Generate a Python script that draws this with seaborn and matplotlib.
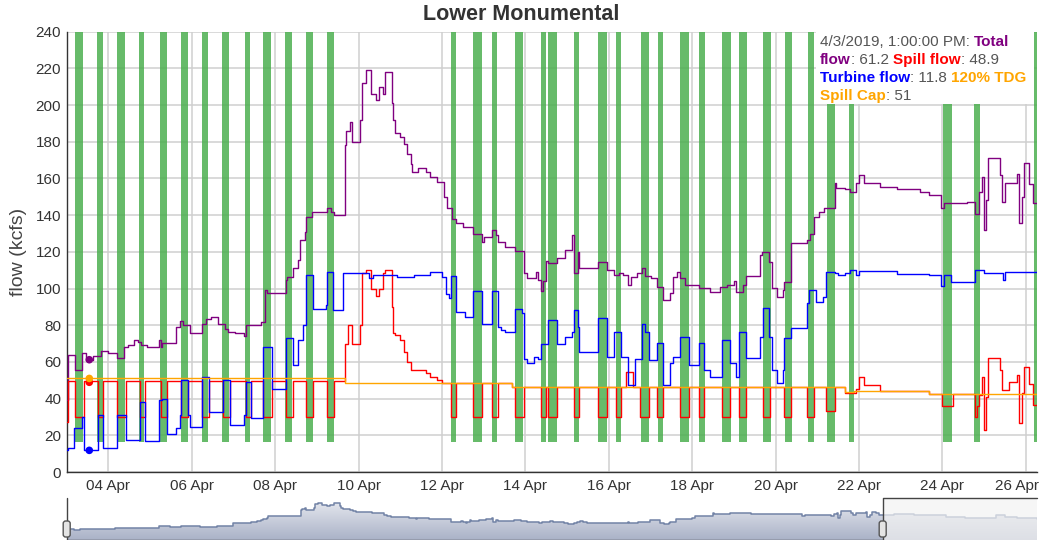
import numpy as np
import pandas as pd
import matplotlib
matplotlib.use('Agg')
import matplotlib.pyplot as plt
import matplotlib.dates as mdates
from matplotlib.colors import LinearSegmentedColormap
from matplotlib.patches import Rectangle, FancyBboxPatch
from matplotlib.transforms import IdentityTransform, ScaledTranslation
import seaborn as sns

# hours counted from 2019-04-03 00:00, hourly data
start = pd.Timestamp('2019-04-03 00:00')
view_end_h = 558.4
range_end_h = 664

total_pts = [(0, 39), (1, 64), (5, 55.6), (9, 65), (11, 61.2), (15, 63), (20, 66), (24, 65), (29, 62),
             (33, 68), (35, 69), (39, 72), (41, 71), (43, 69), (46, 68), (53, 72), (54, 68), (55, 70.5),
             (63, 79), (65, 82.5), (67, 80), (71, 76), (78, 80.6), (80, 83.4), (83, 84.3), (87, 80.6),
             (91, 77.8), (93, 76.5), (97, 76), (102, 74), (103, 80), (112, 81.7), (114, 99), (115, 97.5),
             (126, 104.6), (127, 106.3), (130, 111), (133, 115.8), (134, 126.4), (137, 131), (138, 139),
             (141, 141.9), (150, 143.7), (152, 141.9), (154, 140), (160, 178), (161, 186), (163, 191),
             (164, 180), (169, 192), (170, 211.8), (172, 219), (175, 206), (178, 202.7), (180, 210),
             (182, 206), (183, 218.3), (187, 201), (188, 192), (189, 184.6), (192, 182.4), (194, 179),
             (196, 173.5), (198, 168), (199, 163.7), (202, 165.5), (207, 163.7), (209, 161), (213, 158),
             (217, 150), (219, 143.7), (222, 138), (224, 135.7), (228, 133.7), (234, 130), (239, 125.5),
             (240, 128), (245, 132), (247, 129), (248, 125.5), (252, 122.8), (258, 120.5), (263, 108.3),
             (265, 105.5), (270, 109), (271, 104.5), (273, 98.6), (274, 104), (276, 115), (277, 113.7),
             (282, 116.4), (287, 121), (291, 129), (292, 108.3), (294, 120), (295, 111), (306, 114.7),
             (311, 110), (315, 107.4), (318, 108.3), (320, 107.4), (323, 102), (325, 106.4), (328, 108.3),
             (331, 111), (333, 106.7), (336, 105.5), (340, 101), (343, 93.7), (347, 97.3), (349, 106.4),
             (351, 109.2), (353, 105.5), (356, 102), (364, 100.2), (370, 98.3), (376, 101), (380, 102),
             (384, 104), (385, 98.3), (389, 102), (391, 107), (399, 118.3), (400, 120), (404, 114.7),
             (406, 100.2), (409, 95.5), (412, 99.2), (413, 103.5), (417, 124.6), (426, 126.4), (428, 130),
             (430, 139), (433, 141.9), (436, 143.7), (442, 157.3), (443, 154.6), (448, 154), (451, 152.8),
             (454, 157.3), (456, 161.8), (459, 157.3), (468, 155.5), (478, 154.5), (491, 152.8),
             (496, 150.9), (503, 143.7), (505, 146.4), (518, 147.3), (523, 140.9), (525, 152.8),
             (527, 160.9), (528, 131.9), (529, 148), (530, 170.9), (537, 162), (538, 147.3), (540, 157.3),
             (542, 157.6), (547, 162.7), (548, 135.6), (550, 150), (551, 168.2), (554, 157), (556, 146.4),
             (558.4, 146.4)]

spill_pts = [(0, 27), (1, 49.5), (5, 30), (10, 49.5), (18, 30), (21, 49.5), (29, 30), (34, 49.5), (42, 30),
             (45, 49.5), (54, 30), (58, 49.5), (66, 30), (70, 49.5), (78, 30), (82, 49.5), (90, 30),
             (94, 49.5), (103, 30), (106, 49.5), (113, 30), (118, 49.5), (126, 30), (130, 49.5), (138, 30),
             (142, 49.5), (150, 30), (154, 49.5), (160, 70), (162, 80), (164, 70), (169, 80), (170, 108.3),
             (172, 110), (175, 100), (178, 96), (180, 100), (182, 108.3), (183, 110), (187, 90), (188, 76),
             (189, 74.7), (192, 72), (194, 65.4), (196, 60), (198, 55.6), (207, 53.8), (209, 52), (213, 50),
             (216, 48.3), (221, 30), (224, 48.3), (234, 30), (239, 48.3), (245, 30), (248, 48.3),
             (256, 46.5), (258, 30), (263, 46.5), (273, 30), (276, 46.5), (277, 30), (282, 46.5), (292, 30),
             (295, 46.5), (306, 30), (311, 46.5), (316, 30), (319, 46.5), (322, 54.7), (326, 46.5),
             (330, 30), (335, 46.5), (340, 30), (343, 46.5), (353, 30), (358, 46.5), (364, 30), (367, 46.5),
             (377, 30), (382, 46.5), (387, 30), (391, 46.5), (401, 30), (405, 46.5), (413, 30), (417, 46.5),
             (426, 30), (430, 46.5), (437, 33), (442, 46.5), (448, 43), (454, 45), (456, 52), (459, 47.5),
             (468, 44.3), (496, 42.3), (504, 36), (510, 42.3), (523, 30), (524, 36), (525, 42), (527, 52),
             (528, 23), (529, 41), (530, 62), (537, 55.6), (538, 44.9), (542, 49.2), (547, 52.9),
             (548, 26.5), (550, 42.9), (551, 57.4), (554, 48), (556, 36.5), (558.4, 36.5)]

turbine_pts = [(0, 12), (1, 13), (4, 24), (9, 30), (10, 12), (18, 31), (21, 13), (29, 31), (34, 17.5),
               (42, 38), (45, 17), (53, 39), (55, 40), (58, 20.8), (63, 24), (65, 31), (66, 50), (70, 31),
               (71, 24.3), (78, 52), (82, 32.8), (90, 50), (94, 25.6), (102, 31), (103, 49), (106, 29.2),
               (113, 68.2), (118, 45.3), (126, 73), (130, 58.2), (133, 72), (136, 80), (138, 107.2),
               (142, 89.1), (149, 90.9), (150, 109), (153, 88.2), (159, 108.5), (174, 105.5), (176, 107.5),
               (190, 106.5), (200, 107.5), (209, 109.2), (216, 106.4), (218, 97), (220, 94.7), (221, 106.8),
               (224, 87.2), (229, 84.4), (234, 98.9), (239, 80.7), (245, 98.9), (248, 79.2), (250, 77.6),
               (252, 76.3), (258, 89), (262, 86.5), (263, 61.5), (265, 59.2), (269, 62.9), (271, 61.5),
               (273, 70), (277, 82.8), (282, 70), (287, 73.4), (291, 76.5), (292, 88.4), (294, 79.2),
               (295, 65.6), (306, 83.7), (311, 62.9), (315, 76.3), (319, 62.9), (323, 47.4), (327, 61.5),
               (331, 80.9), (333, 76.5), (335, 60.8), (340, 70.1), (343, 47.4), (347, 59.2), (349, 62.9),
               (353, 73.7), (358, 58.3), (364, 70.4), (367, 55.6), (370, 52), (377, 72.1), (382, 59.2),
               (385, 52), (387, 76.5), (391, 62), (399, 73.7), (401, 89.2), (404, 73.7), (406, 55.6),
               (409, 48.3), (412, 55.6), (413, 72.8), (417, 78.3), (426, 91.9), (427, 99.2), (431, 92.9),
               (435, 95.6), (437, 109.2), (442, 108.6), (444, 107.4), (448, 108.3), (451, 110),
               (454, 107.4), (456, 109.5), (478, 108), (496, 107.4), (503, 101.3), (505, 107.4),
               (509, 103.7), (523, 110), (528, 108.6), (539, 104.5), (540, 109), (558.4, 109)]

cap_pts = [(0, 51), (160, 48.3), (256, 46.2), (448, 43.5), (453, 44.3), (496, 42.3), (558.4, 42.3)]

# total flow after the zoomed window (only seen in the range selector)
tail_pts = [(559, 150), (566, 152), (580, 150), (600, 150), (602, 135), (615, 130), (630, 132),
            (636, 145), (642, 138), (650, 128), (664, 125)]

bar_start_h = [4.8, 17.6, 28.8, 41.6, 53.7, 65.6, 77.7, 89.5, 102.6, 112.8, 125.6, 137.7, 149.6,
               221.0, 234.0, 244.9, 258.0, 273.0, 277.2, 292.1, 305.9, 316.0, 330.3, 340.1, 353.0,
               364.1, 377.0, 387.1, 400.9, 413.4, 426.5, 437.4, 450.4, 504.5, 522.3, 556.8]
bar_end_h = [9.6, 20.7, 33.6, 44.7, 57.6, 69.6, 81.5, 93.6, 105.5, 117.6, 129.5, 141.6, 153.8,
             224.1, 238.8, 247.8, 262.8, 275.8, 282.0, 295.0, 311.1, 319.0, 335.1, 343.3, 358.2,
             367.4, 382.1, 391.3, 405.3, 417.2, 430.2, 442.2, 453.3, 509.7, 525.7, 560.0]
bar_bottom = 16.5

hover_h = 13
hover_vals = [61.2, 48.9, 11.8, 51]
series_colors = ['#800080', '#ff0000', '#0000ff', '#ffa500']
xtick_days = list(range(4, 27, 2))
yticks = list(range(0, 241, 20))


def to_time(h):
    return start + pd.to_timedelta(np.asarray(h, dtype=float), unit='h')


def frame(pts):
    h, v = zip(*pts)
    return pd.DataFrame({'time': to_time(h), 'flow': v})


sns.set_theme(style='white')
plt.rcParams['font.family'] = ['Liberation Sans', 'DejaVu Sans']

W, H = 1043, 540
fig = plt.figure(figsize=(W / 100, H / 100), dpi=100)


def box(x0, y0, x1, y1):
    return [x0 / W, 1 - y1 / H, (x1 - x0) / W, (y1 - y0) / H]


# ---- main chart
ax = fig.add_axes(box(66.7, 31.7, 1037, 472))
ax.set_axisbelow(True)
ax.grid(True, color='#cfcfcf', lw=1.1)

for s, e in zip(bar_start_h, bar_end_h):
    ax.axvspan(to_time(s), to_time(e), ymin=bar_bottom / 240, ymax=1,
               color='#4caf50', alpha=0.85, lw=0, zorder=1)

for pts, col in zip([total_pts, spill_pts, turbine_pts, cap_pts], series_colors):
    sns.lineplot(data=frame(pts), x='time', y='flow', color=col, lw=1.0, ax=ax,
                 drawstyle='steps-post', estimator=None, legend=False, zorder=3)

ax.scatter(to_time([hover_h] * 4), hover_vals, c=series_colors, s=30, zorder=6, linewidths=0)

ax.set_xlim(to_time(0), to_time(view_end_h))
ax.set_ylim(0, 240)
ax.set_yticks(yticks)
ax.set_xticks([pd.Timestamp(2019, 4, d) for d in xtick_days])
ax.xaxis.set_major_formatter(mdates.DateFormatter('%d %b'))
ax.tick_params(axis='both', length=0, labelsize=11, colors='#333333')
ax.tick_params(axis='y', pad=4)
ax.tick_params(axis='x', pad=5)
for side in ['top', 'right']:
    ax.spines[side].set_visible(False)
for side in ['left', 'bottom']:
    ax.spines[side].set_color('#333333')
    ax.spines[side].set_linewidth(1.0)
ax.set_xlabel('')
ax.set_ylabel('flow (kcfs)', fontsize=14, color='#444444')
ax.yaxis.set_label_coords(-0.041, 0.5)

# last date label is pulled inside the figure, as in the original
last_lbl = ax.xaxis.get_major_ticks()[-1].label1
last_lbl.set_horizontalalignment('right')
last_lbl.set_transform(last_lbl.get_transform() + ScaledTranslation(0.13, 0, fig.dpi_scale_trans))

fig.text(521 / W, 1 - 15 / H, 'Lower Monumental', ha='center', va='center',
         fontsize=15.5, fontweight='bold', color='#333333')

# ---- hover legend box
lx0, ly0, lx1, ly1 = 816, 31.7, 1034, 104
ax.add_patch(Rectangle((lx0 / W, 1 - ly1 / H), (lx1 - lx0) / W, (ly1 - ly0) / H,
                       transform=fig.transFigure, facecolor='white', edgecolor='none',
                       zorder=7, clip_on=False))
gray = '#555555'
legend_lines = [
    [('4/3/2019, 1:00:00 PM: ', gray, 'normal'), ('Total', series_colors[0], 'bold')],
    [('flow', series_colors[0], 'bold'), (': 61.2 ', gray, 'normal'), ('Spill flow', series_colors[1], 'bold'),
     (': 48.9', gray, 'normal')],
    [('Turbine flow', series_colors[2], 'bold'), (': 11.8 ', gray, 'normal'),
     ('120% TDG', series_colors[3], 'bold')],
    [('Spill Cap', series_colors[3], 'bold'), (': 51', gray, 'normal')],
]
for i, pieces in enumerate(legend_lines):
    yb = 46.5 + i * 17.7
    prev = None
    for txt, col, wt in pieces:
        if prev is None:
            prev = ax.annotate(txt, xy=(820 / W, 1 - yb / H), xycoords='figure fraction',
                               va='baseline', ha='left', fontsize=11, color=col, fontweight=wt,
                               zorder=8, annotation_clip=False)
        else:
            prev = ax.annotate(txt, xy=(1, 0), xycoords=prev, va='bottom', ha='left',
                               fontsize=11, color=col, fontweight=wt, zorder=8, annotation_clip=False)

# ---- range selector
ax2 = fig.add_axes(box(66.7, 498, 1037, 539.5))
mini = frame(total_pts + tail_pts)
ax2.set_xlim(to_time(0), to_time(range_end_h))
ax2.set_ylim(0, 250)
poly = ax2.fill_between(mini['time'], mini['flow'], 0, step='post', color='none')
grad = LinearSegmentedColormap.from_list('g', ['#e9ebf1', '#aab2c7'])
x0n = mdates.date2num(to_time(0))
x1n = mdates.date2num(to_time(range_end_h))
im = ax2.imshow(np.linspace(0, 1, 100).reshape(-1, 1), extent=[x0n, x1n, 0, 250],
                aspect='auto', cmap=grad, zorder=1)
im.set_clip_path(poly.get_paths()[0], transform=ax2.transData)
sns.lineplot(data=mini, x='time', y='flow', color='#7283a6', lw=1.1, ax=ax2,
             drawstyle='steps-post', estimator=None, legend=False, zorder=2)
ax2.set_xlim(to_time(0), to_time(range_end_h))
ax2.set_ylim(0, 250)
ax2.axvspan(to_time(view_end_h), to_time(range_end_h), color='#f3f3f3', alpha=0.7, lw=0, zorder=3)
hx = view_end_h / range_end_h
ax2.plot([0, 0, hx, hx, 1], [1, 0, 0, 1, 1], transform=ax2.transAxes, color='#444444',
         lw=1.0, clip_on=False, zorder=4)
ax2.axis('off')

for hpx in [66.7, 66.7 + hx * (1037 - 66.7)]:
    fig.patches.append(FancyBboxPatch((hpx - 3.5, H - 537), 7, 16,
                                      boxstyle='round,pad=0,rounding_size=2.5',
                                      transform=IdentityTransform(), facecolor='#e4e4e4',
                                      edgecolor='#555555', lw=1.0, figure=fig))

fig.savefig('out.png', dpi=100)
